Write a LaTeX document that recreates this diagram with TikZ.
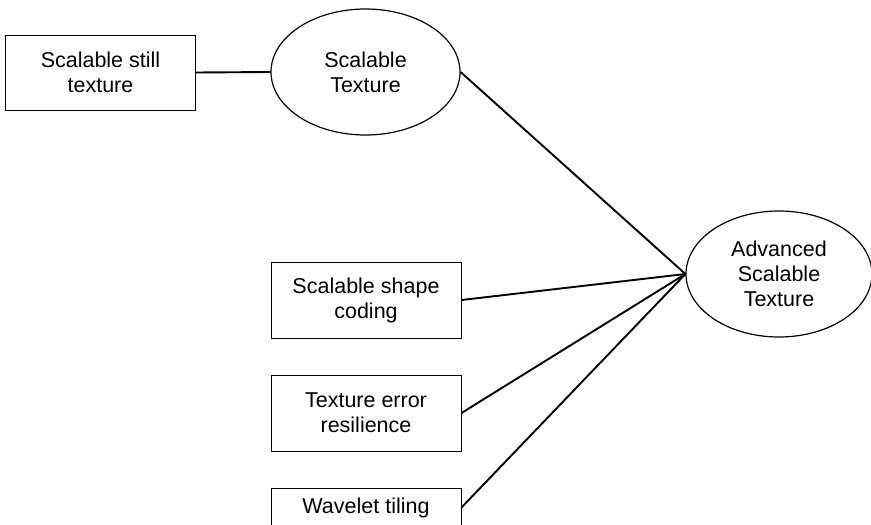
\documentclass[tikz,border=0pt]{standalone}
\usepackage{fontspec}
\setmainfont{Liberation Sans}
\usetikzlibrary{shapes.geometric}
\begin{document}
\begin{tikzpicture}[x=1pt,y=-1pt,
  txt/.style={align=center, font=\fontsize{21.5}{25}\selectfont},
  box/.style={txt, draw, line width=1pt, minimum width=190pt, minimum height=75pt, inner sep=0pt},
  oval/.style={txt, draw, ellipse, line width=1.2pt, minimum width=189pt, minimum height=126pt, inner sep=0pt},
  conn/.style={line width=1.9pt}]
\clip (0,0) rectangle (871,525);
\node[box] (sst) at (100.5,72.5) {Scalable still\\texture};
\node[oval] (st) at (365.5,72) {Scalable\\Texture};
\node[oval, minimum width=186pt] (ast) at (779,274) {Advanced\\Scalable\\Texture};
\node[box, minimum height=76pt] (ssc) at (366,300) {Scalable shape\\coding};
\node[box, minimum height=76pt] (ter) at (366,413) {Texture error\\resilience};
\node[box, minimum height=39pt] (wt) at (366,507.5) {Wavelet tiling};
\draw[conn] (sst.east) -- (st.west);
\draw[conn] (st.east) -- (ast.west);
\draw[conn] (ssc.east) -- (ast.west);
\draw[conn] (ter.east) -- (ast.west);
\draw[conn] (wt.east) -- (ast.west);
\end{tikzpicture}
\end{document}
